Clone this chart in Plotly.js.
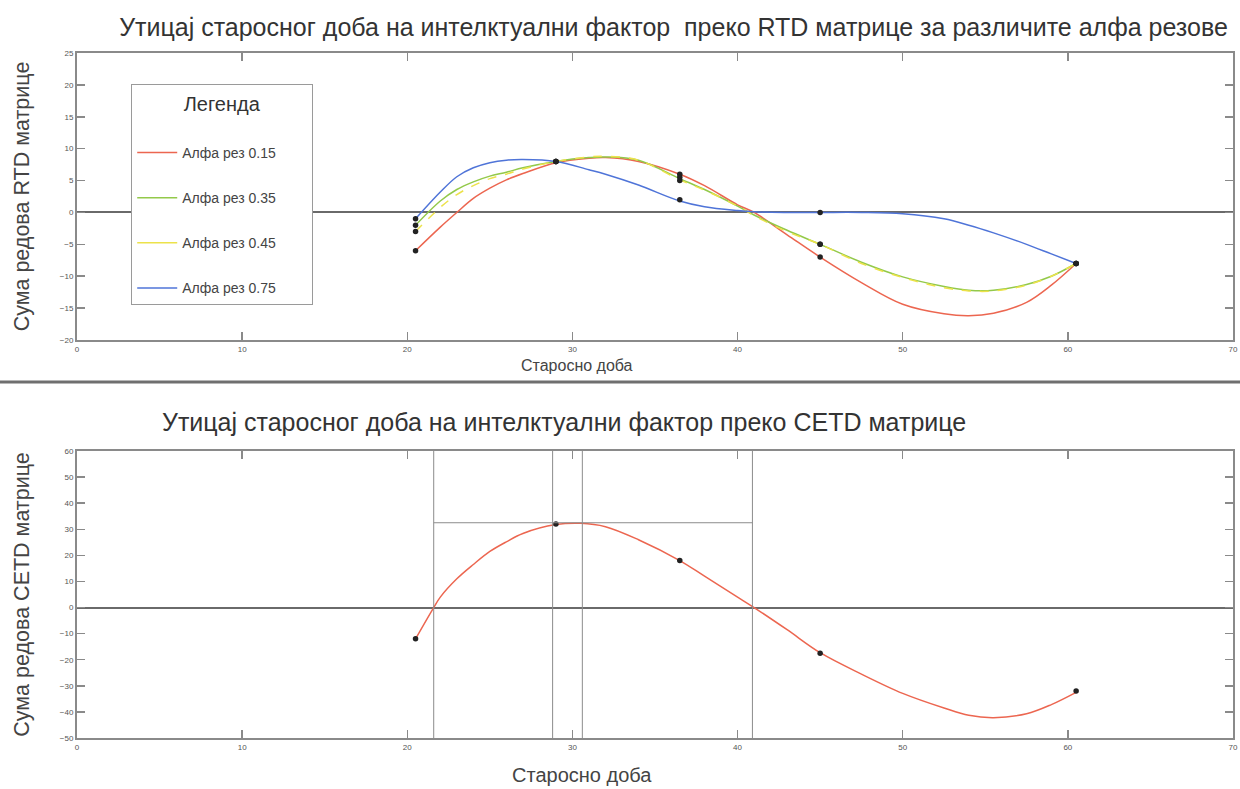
<!DOCTYPE html>
<html>
<head>
<meta charset="utf-8">
<script src="https://cdn.plot.ly/plotly-3.0.1.min.js"></script>
<style>html,body{margin:0;padding:0;background:#fff}#chart{width:1240px;height:789px}</style>
</head>
<body>
<div id="chart"></div>
<script>
// ---- data ----
const ages = [20.5, 29, 36.5, 45, 60.5];
const rtdAlfa015 = [-6, 8, 6, -7, -8];
const rtdAlfa035 = [-2, 8, 5.5, -5, -8];
const rtdAlfa045 = [-3, 8, 5, -5, -8];
const rtdAlfa075 = [-1, 8, 2, 0, -8];
const cetdSums = [-12, 32, 18, -17.5, -32];

// curves
const curveAges = [20.5, 22, 23, 24, 25, 26, 27, 29, 31, 32, 34, 36.5, 38, 40, 41, 43, 45, 47.5, 50, 52.5, 54, 55.5, 57.5, 59, 60.5];
const curve015 = [-6, -2.3, 0, 2.2, 3.8, 5.1, 6.1, 7.8, 8.5, 8.6, 8.0, 6.0, 4.2, 1.2, 0, -3.5, -7, -11, -14.4, -15.9, -16.2, -15.8, -14.1, -11.4, -8];
const curve035 = [-2, 1.8, 3.6, 4.8, 5.7, 6.3, 7.0, 8.0, 8.6, 8.7, 8.2, 5.3, 3.6, 1.0, -0.4, -2.8, -5, -7.8, -10.1, -11.6, -12.2, -12.2, -11.3, -10, -8];
const curve045 = [-3, 0.8, 2.8, 4.2, 5.3, 6.0, 6.8, 8.0, 8.7, 8.8, 8.2, 5.1, 3.5, 1.0, -0.5, -3.0, -5, -8, -10.2, -11.8, -12.3, -12.3, -11.4, -10, -8];
const curve075 = [-1, 3.2, 5.6, 7.0, 7.8, 8.2, 8.3, 8.0, 6.7, 6.0, 4.3, 1.8, 0.9, 0.3, 0.1, 0, 0, 0, -0.2, -1.0, -2.0, -3.2, -5.0, -6.5, -8];
const cetdCurveAges = [20.5, 21.6, 22, 23, 24, 25, 26, 27, 29, 30.5, 32, 34, 36.5, 38, 40, 41, 43, 45, 47.5, 50, 52.5, 54, 55.5, 57.5, 59, 60.5];
const cetdCurve = [-12, 0, 4, 11, 16.5, 21.5, 25.2, 28.4, 31.8, 32.3, 31, 26, 18, 12, 4, 0, -8.5, -17.3, -25.5, -32.9, -38.5, -41.3, -42.2, -40.7, -37.2, -32.5];

// alpha-cut guide lines on CETD plot
const cutVerticals = [21.6, 28.8, 30.6, 40.9];
const cutHorizontal = {y: 32.5, from: 21.6, to: 40.9};

const seriesNames = ['Алфа рез 0.15', 'Алфа рез 0.35', 'Алфа рез 0.45', 'Алфа рез 0.75'];
const seriesColors = ['#ec6650', '#93c94a', '#ece24a', '#4f74d8'];

const titleTop = 'Утицај старосног доба на интелктуални фактор  преко RTD матрице за различите алфа резове';
const titleBottom = 'Утицај старосног доба на интелктуални фактор преко CETD матрице';
const xTitle = 'Старосно доба';
const yTitleTop = 'Сума редова RTD матрице';
const yTitleBottom = 'Сума редова CETD матрице';
const legendTitle = 'Легенда';

const FONT = 'Liberation Sans, Arial, sans-serif';
const PAD = '\u00a0\u00a0\u00a0\u00a0\u00a0\u00a0\u00a0\u00a0';

const curves = [curve015, curve035, curve045, curve075];
const points = [rtdAlfa015, rtdAlfa035, rtdAlfa045, rtdAlfa075];
const traces = [];
curves.forEach((c, i) => {
  const isYellow = i === 2;
  traces.push({
    x: curveAges, y: c, type: 'scatter', mode: 'lines',
    line: {color: seriesColors[i], width: 1.5, shape: 'spline', smoothing: 1, dash: isYellow ? 'dash' : 'solid'},
    name: seriesNames[i] + PAD, legendgroup: 'g' + i, legendrank: i + 1,
    showlegend: !isYellow, xaxis: 'x', yaxis: 'y'
  });
  if (isYellow) {
    // legend swatch shown as a solid line, as in the reference
    traces.push({
      x: [null], y: [null], type: 'scatter', mode: 'lines',
      line: {color: seriesColors[i], width: 1.5},
      name: seriesNames[i] + PAD, legendgroup: 'g' + i, legendrank: i + 1,
      showlegend: true, xaxis: 'x', yaxis: 'y'
    });
  }
});
points.forEach((p, i) => {
  traces.push({
    x: ages, y: p, type: 'scatter', mode: 'markers',
    marker: {color: '#222', size: 5.5}, showlegend: false, xaxis: 'x', yaxis: 'y'
  });
});
traces.push({
  x: cetdCurveAges, y: cetdCurve, type: 'scatter', mode: 'lines',
  line: {color: seriesColors[0], width: 1.5, shape: 'spline', smoothing: 1},
  showlegend: false, xaxis: 'x2', yaxis: 'y2'
});
traces.push({
  x: ages, y: cetdSums, type: 'scatter', mode: 'markers',
  marker: {color: '#222', size: 5.5}, showlegend: false, xaxis: 'x2', yaxis: 'y2'
});

const axisCommon = {
  showline: true, linecolor: '#8a8a8a', linewidth: 2, mirror: 'ticks',
  ticks: 'inside', ticklen: 8, tickwidth: 1.5, tickcolor: '#8a8a8a',
  showgrid: false, tickfont: {family: FONT, size: 8, color: '#555'}, automargin: false
};

const shapes = [];
cutVerticals.forEach(v => shapes.push({type: 'line', xref: 'x2', yref: 'y2 domain', x0: v, x1: v, y0: 0, y1: 1, line: {color: '#8c8c8c', width: 1}}));
shapes.push({type: 'line', xref: 'x2', yref: 'y2', x0: cutHorizontal.from, x1: cutHorizontal.to, y0: cutHorizontal.y, y1: cutHorizontal.y, line: {color: '#8c8c8c', width: 1}});
shapes.push({type: 'line', xref: 'paper', yref: 'paper', x0: -0.07, x1: 1.01, y0: 0.5197, y1: 0.5197, line: {color: '#6f6f6f', width: 3}});

const layout = {
  width: 1240, height: 789,
  margin: {l: 77, r: 7, t: 53, b: 51},
  paper_bgcolor: '#fff', plot_bgcolor: '#fff',
  font: {family: FONT, color: '#333'},
  title: {text: titleTop, font: {family: FONT, size: 25, color: '#333'}, x: 0.516, xref: 'paper', xanchor: 'center', y: 0.966, yanchor: 'middle'},
  xaxis: Object.assign({}, axisCommon, {domain: [0, 1], range: [0, 70], dtick: 10, tick0: 0, anchor: 'y', zeroline: false}),
  yaxis: Object.assign({}, axisCommon, {domain: [0.581, 1], range: [-20, 25], dtick: 5, tick0: 0, anchor: 'x',
    zeroline: true, zerolinecolor: '#6a6a6a', zerolinewidth: 2,
    title: {text: yTitleTop, font: {family: FONT, size: 21.5, color: '#444'}, standoff: 24}}),
  xaxis2: Object.assign({}, axisCommon, {domain: [0, 1], range: [0, 70], dtick: 10, tick0: 0, anchor: 'y2', zeroline: false}),
  yaxis2: Object.assign({}, axisCommon, {domain: [0, 0.419], range: [-50, 60], dtick: 10, tick0: 0, anchor: 'x2',
    zeroline: true, zerolinecolor: '#6a6a6a', zerolinewidth: 2,
    title: {text: yTitleBottom, font: {family: FONT, size: 21.5, color: '#444'}, standoff: 24}}),
  showlegend: true,
  legend: {
    x: 0.0469, y: 0.955, xref: 'paper', yref: 'paper', xanchor: 'left', yanchor: 'top',
    bgcolor: '#fff', bordercolor: '#9a9a9a', borderwidth: 1,
    font: {family: FONT, size: 14, color: '#444'},
    title: {text: legendTitle + '<br> ', font: {family: FONT, size: 20, color: '#333'}, side: 'top center'},
    tracegroupgap: 24, itemwidth: 40, traceorder: 'grouped'
  },
  annotations: [
    {text: titleBottom, xref: 'paper', yref: 'paper', x: 0.421, y: 0.461, xanchor: 'center', yanchor: 'middle',
     showarrow: false, font: {family: FONT, size: 25, color: '#333'}},
    {text: xTitle, xref: 'paper', yref: 'paper', x: 0.4325, y: 0.5445, xanchor: 'center', yanchor: 'middle',
     showarrow: false, font: {family: FONT, size: 16, color: '#444'}},
    {text: xTitle, xref: 'paper', yref: 'paper', x: 0.4366, y: -0.0540, xanchor: 'center', yanchor: 'middle',
     showarrow: false, font: {family: FONT, size: 20, color: '#444'}}
  ],
  shapes: shapes
};

Plotly.newPlot('chart', traces, layout, {displayModeBar: false, staticPlot: true});
</script>
</body>
</html>
